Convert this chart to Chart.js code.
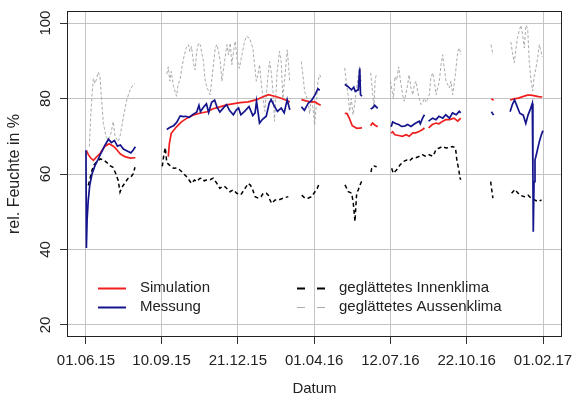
<!DOCTYPE html>
<html>
<head>
<meta charset="utf-8">
<script src="https://cdn.jsdelivr.net/npm/chart.js@4.4.1/dist/chart.umd.min.js"></script>
<style>
  html, body { margin: 0; padding: 0; background: #fff; }
  canvas { display: block; }
</style>
</head>
<body>
<canvas id="feuchteChart" width="573" height="398"></canvas>
<script>
// x = Tage seit 01.06.15, [tag, null] trennt die Messabschnitte
const tickTage = [0, 101, 203, 305, 407, 509, 611];
const tickLabels = ['01.06.15', '10.09.15', '21.12.15', '01.04.16', '12.07.16', '22.10.16', '01.02.17'];
const yTicks = [20, 40, 60, 80, 100];

const simulation = [
  [0.5,66.2],[3,65.2],[6,64.3],[10,63.6],[14,64.5],[19,65.5],[25,67.3],[31,68],[37,67.3],[41,66.5],[46,65.3],[52,64.6],[59,64.2],[66,64.3],[80,null],
  [110,64.6],[111.5,68.1],[114,70.8],[121,72.5],[128,73.9],[135,74.8],[143,75.6],[152,76.1],[162,76.5],[170,77.3],[179,77.8],[188,78.3],[196,78.6],[206,78.9],[217,79.1],[228,79.7],[236,80.4],[244,81],[252,80.6],[259,80.2],[266,79.7],[272.5,79.1],[280,null],
  [288,79.7],[294,79.4],[299,79.1],[306,79.1],[310,78.6],[313.7,78.2],[330,null],
  [346,76.1],[349,76],[352,74.8],[356,72.8],[362,72.1],[369,72.2],[375,null],
  [380.5,72.8],[383,73.5],[386,73],[390,72.5],[400,null],
  [408,70.8],[410,71.2],[413,70.4],[418,70.2],[423,70],[428,70.4],[432,70],[437,70.9],[441,70.9],[446,71.3],[450,71.8],[452.5,72.2],[455,null],
  [458,72.2],[463,73.1],[468,73.5],[472,73.3],[477,74],[481,74.4],[486,74.4],[492,74.8],[497,74],[501,74.8],[520,null],
  [542,80],[545,79.5],[555,null],
  [567,79.6],[572,79.9],[578,80.1],[584,80.5],[590,80.9],[595,80.9],[600,80.7],[605,80.5],[610,80.4]
];

const messung = [
  [0,66.3],[0.5,40.4],[1.5,48],[3,53],[5,57],[8,60],[12,62.2],[16,63.8],[20,65.5],[25,67.5],[30,69.2],[34,68.3],[38,68.9],[42,67.4],[46,67.7],[50,66.6],[55,66.1],[60,65.6],[63,66.3],[66,67.2],[80,null],
  [108,71.8],[112,72.3],[117,72.8],[121,73.6],[126,75.4],[130,75.2],[133,75.3],[138,75],[143,75.8],[148,76.4],[151,78.2],[153,76.5],[157,77.7],[161,78.6],[164,76.3],[168,79],[172,79.6],[175,77.8],[179,76.4],[184,77.6],[188,78.4],[192,76.8],[197,75.7],[201,77],[204,77.5],[207,75.7],[212,76.6],[218,77.9],[223,75.5],[226,76.2],[228,79.3],[232,73.5],[236,74.5],[241,75.3],[245,78.8],[247.5,79.7],[252,77.9],[256,76.6],[261,77.5],[265,76.2],[269,79.7],[272.5,77],[280,null],
  [288,77.8],[292,76.9],[297,78.7],[302,79.6],[306,80.9],[310,82.6],[312.5,82.2],[330,null],
  [346,83.8],[350,83.2],[355,82.3],[358,83],[360,81.9],[364,82.3],[366,88],[367,81],[369,80.6],[375,null],
  [380.5,77.2],[383,77.5],[386,78.2],[390,77.4],[400,null],
  [408,72.5],[410,73.8],[414,73.4],[418,73.1],[422,72.6],[426,72.7],[430,73.1],[434.5,72.6],[438,73.1],[441,73.5],[445.5,74],[447,73.3],[450,74.8],[452.5,75.7],[455,null],
  [458,74],[463.5,74.8],[468,74.4],[472,75.3],[477,74.8],[481,75.7],[486,74.8],[490,76.2],[495,75.7],[499,76.6],[501,76.2],[520,null],
  [542,76.5],[545,75.6],[555,null],
  [567,76.5],[570,78.4],[573,79.6],[576.6,77.8],[580,76.1],[584.6,75.6],[588,73.4],[591,75.6],[594.5,77.4],[596.7,78.7],[597.5,60],[598,44.7],[599,58],[600.3,63.7],[602.5,65.5],[606,68.5],[609,70.5],[611,71.5]
];

const innenklima = [
  [3,57],[5,58.5],[8,61],[11,62.5],[15,63.4],[19,64],[23,63.8],[28,63],[32,62.2],[36,61.8],[40,60],[43,58.3],[45.5,55.2],[48,56.5],[52,57.6],[56,58.8],[60,59.2],[63,60],[65.5,61.8],[80,null],
  [102,62],[104,65],[106,67],[108,63],[112,62.3],[117,61.5],[121,61.6],[126,61],[130,60.2],[135,59.2],[141,57.5],[145,58.4],[148,58],[152,58.8],[155,58.9],[158,58.2],[161,58.4],[166,58.5],[170,58.9],[175,57.5],[179,56.2],[183,56.8],[186,56.6],[190,55.8],[192.5,55.3],[196.9,55.8],[201.5,54.9],[207,54.5],[212.6,56.2],[217,57.5],[220,57],[222.9,55.8],[226,54],[230.3,53.6],[234,54],[237,54.9],[241,54.9],[243.7,54.4],[246,53.1],[248.3,52.2],[252.7,53.1],[257,53.1],[263.8,53.6],[270.5,54],[280,null],
  [288.4,54.4],[292.8,53.6],[297,53.6],[301.7,54],[306.1,55.3],[309.2,56.2],[311.9,57.5],[330,null],
  [346.3,57.1],[350.7,55.3],[355.2,54.9],[357.4,52.2],[359.6,47.4],[361.9,54.9],[364,55.8],[367.2,57.5],[369.9,58.6],[375,null],
  [381,60.5],[382,61.5],[385,62.1],[388.6,61.9],[400,null],
  [408.7,61.5],[410.8,60.2],[415.4,61.1],[419.8,62.4],[424.2,63.3],[428.7,63.7],[432,63.4],[437,64.3],[441,64.3],[446,64.7],[450,65.1],[454,64.7],[459,65.1],[463.5,64.7],[466,65.6],[468,66.5],[472.4,66.9],[476.9,67.3],[481,66.9],[485.8,67],[490,67.3],[494,66.9],[496,63.4],[498,61.6],[500,59],[501,58.5],[520,null],
  [541,58],[542.5,55.8],[544,53.6],[555,null],
  [569,54.9],[573.5,55.9],[576,55.3],[580,54.4],[586,54],[591,54.4],[595,53.6],[600,53.1],[604.5,52.7],[609,53.1]
];

const aussenklima = [
  [4.5,67.3],[6,74],[7.6,79.6],[9.8,85.3],[12,84],[14.3,85.3],[16.5,87],[18.7,85.7],[20.9,79.6],[23.2,73.4],[26.7,70],[29.9,69],[33.4,70.8],[36.5,73.9],[38.8,70],[43.2,68.6],[45.5,70],[50.8,76],[54.4,79.6],[58.8,82.2],[62.4,83.5],[65.5,84],[80,null],
  [108,86.5],[110,88.4],[112,84.6],[114,87.2],[117,83.2],[121,80.6],[123,83.5],[126,85.4],[128,88],[130.5,90.7],[134,93.4],[137,94.3],[139,92.5],[141,93.8],[144,89],[146,87.6],[148,92.5],[150.5,94.7],[152.7,94.3],[157,89.8],[159.4,84.6],[162,82.8],[166,81],[168,84.6],[172.8,93.4],[175,94.3],[177.2,92.5],[179.5,89.8],[181.7,84.6],[184,88],[188.4,94.3],[190.5,91.6],[192.9,94.7],[195,89],[197.3,92.5],[199.5,95.2],[201.8,90.7],[205,88],[207.6,90.7],[212,95.1],[214.5,96.5],[218.7,96],[223,93.4],[225.4,89],[227.7,84.6],[230,86.3],[232,89],[234.5,83.7],[239,76.6],[243.5,86.3],[245.5,89.8],[247.6,87.2],[250,81.9],[252,74],[255.6,87.2],[258.7,92.5],[261,89.8],[263.2,80],[265.4,84.6],[269,92.9],[270.8,89],[272.2,84.6],[280,null],
  [287.8,89.8],[290,86.3],[292.3,81.9],[296.8,79.3],[299,76],[301.2,80],[303.5,77.5],[305.7,73],[308,78.4],[310.2,84.6],[312.4,86.3],[314.6,85.4],[330,null],
  [345.8,88.1],[348,84.6],[350.3,81],[352.5,76.6],[354.7,80],[357,75.7],[359.2,78.4],[361.4,81.9],[363.6,85.4],[365.8,88.5],[368,84.6],[375,null],
  [380.6,86.8],[383,81.9],[385,77.5],[386.5,84.6],[388,86.3],[400,null],
  [407,84.6],[409,82.3],[411,80],[413,85.8],[415.5,84.9],[418,88.4],[420,85.4],[423.3,81],[425.5,79.3],[428,81.5],[430,83.7],[432,86.3],[434.5,82.8],[437,81],[439,83.7],[441.2,84.6],[443.4,81.9],[445.6,80],[447.8,78.4],[450,78.8],[452,80],[455,79],[459,81],[461,85.4],[463.5,86.8],[465.7,84.6],[468,81],[472.4,84.6],[474.6,89],[476.9,91.6],[479,88.1],[481.3,84.6],[485.8,82.8],[488,84.6],[490.2,81],[493.8,86.3],[497,92.5],[499,93.4],[501.3,91.6],[520,null],
  [541.5,94.3],[544,91.6],[555,null],
  [568,95],[570,92.3],[572.6,89.5],[575,93.4],[577,96.2],[579.3,98],[581.5,99.4],[583.7,97],[586,93.4],[588.2,99.4],[590.5,98.5],[592.7,89.5],[594.9,85],[597.2,82],[599.4,86],[601.6,88],[604,91],[606.1,94.3],[608.3,92.5],[610,91]
];

function toPoints(reihe) {
  return reihe.map(p => ({ x: p[0], y: p[1] }));
}

const FONT = '"Liberation Sans", Arial, sans-serif';

// weisser Hintergrund, Rahmen und Legende im Plotbereich
const rahmenPlugin = {
  id: 'rahmen',
  beforeDraw(chart) {
    const c = chart.ctx;
    c.save();
    c.fillStyle = '#fff';
    c.fillRect(0, 0, chart.width, chart.height);
    c.restore();
  },
  afterDatasetsDraw(chart) {
    const c = chart.ctx;
    const a = chart.chartArea;
    c.save();
    c.strokeStyle = '#222';
    c.lineWidth = 1;
    c.strokeRect(a.left + 0.5, a.top + 0.5, a.right - a.left - 1, a.bottom - a.top - 1);

    // Legende
    const pos = [[98, 288], [98, 307], [297, 288], [297, 307]];
    c.font = '15px ' + FONT;
    c.textBaseline = 'middle';
    c.fillStyle = '#222';
    chart.data.datasets.forEach((ds, i) => {
      const [x, y] = pos[i];
      c.beginPath();
      c.setLineDash(ds.borderDash ? [8, 12] : []);
      c.strokeStyle = ds.borderColor;
      c.lineWidth = ds.legendWidth;
      c.moveTo(x, y + 0.5);
      c.lineTo(x + 28, y + 0.5);
      c.stroke();
      c.setLineDash([]);
      c.fillText(ds.label, x + 42, y);
    });
    c.restore();
  }
};

const ctx = document.getElementById('feuchteChart').getContext('2d');
const feuchteChart = new Chart(ctx, {
  type: 'line',
  data: {
    datasets: [{
      label: 'Simulation',
      data: toPoints(simulation),
      borderColor: '#f01e1e',
      borderWidth: 1.7,
      legendWidth: 2,
      order: 2
    }, {
      label: 'Messung',
      data: toPoints(messung),
      borderColor: '#14148c',
      borderWidth: 1.7,
      legendWidth: 2,
      order: 1
    }, {
      label: 'geglättetes Innenklima',
      data: toPoints(innenklima),
      borderColor: '#000',
      borderWidth: 1.5,
      borderDash: [4, 3],
      legendWidth: 2,
      order: 3
    }, {
      label: 'geglättetes Aussenklima',
      data: toPoints(aussenklima),
      borderColor: '#ababab',
      borderWidth: 1,
      borderDash: [3, 2],
      legendWidth: 1.2,
      order: 4
    }]
  },
  options: {
    responsive: false,
    animation: false,
    devicePixelRatio: 1,
    spanGaps: false,
    elements: {
      point: { radius: 0, hoverRadius: 0 },
      line: { tension: 0, fill: false }
    },
    layout: { padding: { top: 11, right: 11, left: 0, bottom: 0 } },
    plugins: {
      legend: { display: false },
      tooltip: { enabled: false }
    },
    scales: {
      x: {
        type: 'linear',
        min: -25.4,
        max: 636.4,
        afterBuildTicks: scale => {
          scale.ticks = tickTage.map(v => ({ value: v }));
        },
        afterFit: scale => {
          scale.height = 61;
          scale.paddingLeft = 0;
          scale.paddingRight = 0;
        },
        grid: { color: '#c4c4c4', lineWidth: 1, tickColor: '#333', tickLength: 7 },
        border: { display: false },
        ticks: {
          autoSkip: false,
          maxRotation: 0,
          padding: 8,
          color: '#222',
          font: { family: FONT, size: 15 },
          callback: (value, index) => tickLabels[index]
        },
        title: {
          display: true,
          text: 'Datum',
          color: '#222',
          font: { family: FONT, size: 15, lineHeight: 1.2 },
          padding: { top: 0, bottom: 0 }
        }
      },
      y: {
        type: 'linear',
        min: 16.8,
        max: 103.2,
        afterBuildTicks: scale => {
          scale.ticks = yTicks.map(v => ({ value: v }));
        },
        afterFit: scale => {
          scale.width = 67;
          scale.paddingTop = 0;
          scale.paddingBottom = 0;
        },
        grid: { color: '#c4c4c4', lineWidth: 1, tickColor: '#333', tickLength: 7 },
        border: { display: false },
        ticks: {
          minRotation: 90,
          maxRotation: 90,
          crossAlign: 'center',
          padding: 2,
          color: '#222',
          font: { family: FONT, size: 15 },
          callback: value => String(value)
        },
        title: {
          display: true,
          text: 'rel. Feuchte in %',
          color: '#222',
          font: { family: FONT, size: 16, lineHeight: 1.2 },
          padding: { top: 5, bottom: 0 }
        }
      }
    }
  },
  plugins: [rahmenPlugin]
});
</script>
</body>
</html>
